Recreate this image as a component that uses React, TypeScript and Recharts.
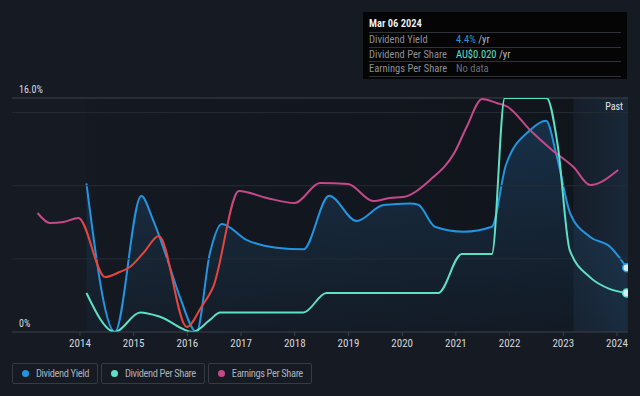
import React from "react";
import {
  ComposedChart,
  Area,
  Line,
  XAxis,
  YAxis,
  ReferenceLine,
  ReferenceArea,
} from "recharts";

// Dividend yield (%)
const yieldYears = [
  2014.12, 2014.65, 2015.14, 2015.36, 2015.61, 2015.86, 2016.17, 2016.42, 2016.64,
  2017.1, 2017.66, 2018.16, 2018.64, 2019.15, 2019.65, 2020.15, 2020.3, 2020.61,
  2021.14, 2021.67, 2021.93, 2022.38, 2022.68, 2022.88, 2023.13, 2023.5, 2023.87,
  2024.18,
];
const yieldValues = [
  10.17, 0, 9.3, 7.66, 5.15, 2.4, 0, 5.4, 7.38, 6.3, 5.76, 5.65, 9.32, 7.59, 8.68,
  8.79, 8.7, 7.2, 6.86, 7.2, 11.4, 13.8, 14.45, 12.0, 8.1, 6.5, 5.83, 4.4,
];

// Dividend per share (AU$)
const dpsYears = [
  2014.12, 2014.65, 2015.12, 2015.49, 2016.1, 2016.42, 2016.61, 2018.16, 2018.59,
  2020.67, 2021.11, 2021.67, 2021.91, 2022.69, 2022.9, 2023.12, 2023.5, 2023.87,
  2024.18,
];
const dpsValues = [
  0.02, 0, 0.01, 0.0078, 0, 0.0062, 0.01, 0.01, 0.02, 0.02, 0.04, 0.04, 0.12, 0.12,
  0.095, 0.042, 0.028, 0.022, 0.02,
];

// Earnings per share (AU$)
const epsYears = [
  2013.21, 2013.44, 2013.69, 2013.97, 2014.47, 2014.74, 2014.93, 2015.18, 2015.47,
  2015.99, 2016.26, 2016.48, 2016.96, 2017.48, 2018.0, 2018.47, 2018.99, 2019.46,
  2019.77, 2020.02, 2020.52, 2020.98, 2021.2, 2021.49, 2021.76, 2021.97, 2022.38,
  2022.79, 2023.19, 2023.5, 2024.02,
];
const epsValues = [
  0.119, 0.109, 0.11, 0.114, 0.055, 0.06, 0.065, 0.079, 0.096, 0.005, 0.025, 0.045,
  0.141, 0.134, 0.129, 0.149, 0.148, 0.131, 0.134, 0.135, 0.152, 0.18, 0.205, 0.233,
  0.229, 0.225, 0.202, 0.182, 0.165, 0.147, 0.162,
];

const xTicks = [2014, 2015, 2016, 2017, 2018, 2019, 2020, 2021, 2022, 2023, 2024];
const yieldGrid = [5, 10, 15];
const yieldMax = 16;
const dataStart = 2014.12;
const pastStart = 2023.19;
const lastDate = 2024.18;

const seriesNames = ["Dividend Yield", "Dividend Per Share", "Earnings Per Share"];
const tooltipDate = "Mar 06 2024";
const tooltipValues = ["4.4%", "AU$0.020", "No data"];

const BG = "#151a23";
const BLUE = "#2394df";
const TEAL = "#5ee0c4";
const PINK = "#c4488a";
const RED = "#e5453d";
const FONT = '"Liberation Sans Narrow", "Roboto Condensed", Roboto, sans-serif';

type Row = { t: number; yld?: number; dps?: number; eps?: number };

function buildRows(): Row[] {
  const map = new Map<number, Row>();
  const put = (ts: number[], vs: number[], key: "yld" | "dps" | "eps") => {
    ts.forEach((t, i) => {
      const r = map.get(t) ?? { t };
      r[key] = vs[i];
      map.set(t, r);
    });
  };
  put(yieldYears, yieldValues, "yld");
  put(dpsYears, dpsValues, "dps");
  put(epsYears, epsValues, "eps");
  return [...map.values()].sort((a, b) => a.t - b.t);
}

const rows = buildRows();

const endDot = (color: string, lastT: number) => (p: any) => {
  if (p.payload?.t !== lastT || p.cy == null) return <g key={p.index} />;
  return (
    <circle key={p.index} cx={p.cx} cy={p.cy} r={4} fill="#d6ecf7" stroke={color} strokeWidth={1.5} />
  );
};

const cornerLabel = (text: string) => (p: any) => (
  <text x={p.viewBox.x + 7} y={p.viewBox.y - 5} fill="#d9dce0" fontSize={10} fontFamily={FONT}>
    {text}
  </text>
);

export default function App() {
  const colors = [BLUE, TEAL, PINK];
  const epsSpan = epsYears[epsYears.length - 1] - epsYears[0];
  const off = (y: number) => ((y - epsYears[0]) / epsSpan).toFixed(3);

  return (
    <div
      style={{
        position: "absolute",
        left: 0,
        top: 0,
        width: 640,
        height: 396,
        background: BG,
        fontFamily: FONT,
        overflow: "hidden",
      }}
    >
      <ComposedChart
        width={640}
        height={396}
        data={rows}
        margin={{ top: 98, right: 12, left: 12, bottom: 34 }}
      >
        <defs>
          <linearGradient id="yieldFill" x1="0" y1="0" x2="0" y2="1">
            <stop offset="0%" stopColor="#2a78b8" stopOpacity={0.45} />
            <stop offset="100%" stopColor="#2a78b8" stopOpacity={0.08} />
          </linearGradient>
          <linearGradient id="darkBand" x1="0" y1="0" x2="1" y2="0">
            <stop offset="0%" stopColor="#07090d" stopOpacity={0.12} />
            <stop offset="100%" stopColor="#07090d" stopOpacity={0.65} />
          </linearGradient>
          <linearGradient id="pastBand" x1="0" y1="0" x2="1" y2="0">
            <stop offset="0%" stopColor="#2a6aa0" stopOpacity={0.1} />
            <stop offset="100%" stopColor="#2a78b8" stopOpacity={0.3} />
          </linearGradient>
          <linearGradient id="epsStroke" x1="0" y1="0" x2="1" y2="0">
            <stop offset={off(2013.95)} stopColor={PINK} />
            <stop offset={off(2014.1)} stopColor={RED} />
            <stop offset={off(2016.7)} stopColor={RED} />
            <stop offset={off(2016.9)} stopColor={PINK} />
          </linearGradient>
        </defs>

        <XAxis
          dataKey="t"
          type="number"
          domain={[2012.734, 2024.205]}
          allowDataOverflow
          ticks={xTicks}
          interval={0}
          axisLine={{ stroke: "#3d434c" }}
          tickLine={{ stroke: "#3d434c" }}
          tickSize={4}
          tickMargin={3}
          tick={{ fill: "#d4d7db", fontSize: 11, fontFamily: FONT }}
          height={30}
        />
        <YAxis yAxisId="y" hide domain={[0, yieldMax]} allowDataOverflow />
        <YAxis yAxisId="d" hide domain={[0, 0.12]} allowDataOverflow />
        <YAxis yAxisId="e" hide domain={[0, 0.234]} allowDataOverflow />

        <ReferenceArea yAxisId="y" x1={dataStart} x2={pastStart} fill="url(#darkBand)" ifOverflow="hidden" />
        <ReferenceArea
          yAxisId="y"
          x1={pastStart}
          x2={2024.205}
          fill="url(#pastBand)"
          ifOverflow="hidden"
          label={{ value: "Past", position: "insideTopRight", fill: "#e2e4e7", fontSize: 10, fontFamily: FONT }}
        />

        {yieldGrid.map((v) => (
          <ReferenceLine key={v} yAxisId="y" y={v} stroke="#262c35" />
        ))}
        <ReferenceLine yAxisId="y" y={yieldMax} stroke="#3c424b" label={cornerLabel("16.0%")} />
        <ReferenceLine yAxisId="y" y={0} stroke="none" label={cornerLabel("0%")} />

        <Area
          yAxisId="y"
          type="monotone"
          dataKey="yld"
          stroke={BLUE}
          strokeWidth={2}
          fill="url(#yieldFill)"
          connectNulls
          isAnimationActive={false}
          dot={endDot(BLUE, lastDate)}
          activeDot={false}
        />
        <Line
          yAxisId="e"
          type="monotone"
          dataKey="eps"
          stroke="url(#epsStroke)"
          strokeWidth={2}
          connectNulls
          isAnimationActive={false}
          dot={false}
          activeDot={false}
        />
        <Line
          yAxisId="d"
          type="monotone"
          dataKey="dps"
          stroke={TEAL}
          strokeWidth={2}
          connectNulls
          isAnimationActive={false}
          dot={endDot(TEAL, lastDate)}
          activeDot={false}
        />
      </ComposedChart>

      {/* tooltip panel */}
      <div
        style={{
          position: "absolute",
          left: 363,
          top: 12,
          width: 264,
          height: 67,
          background: "#050506",
          boxSizing: "border-box",
          padding: "5px 6px 0 6px",
          fontSize: 10.5,
        }}
      >
        <div style={{ color: "#f2f2f2", fontWeight: 600, height: 15, lineHeight: "14px", borderBottom: "1px solid #2e3136" }}>
          {tooltipDate}
        </div>
        {seriesNames.map((name, i) => (
          <div
            key={name}
            style={{
              display: "flex",
              height: 13.5,
              lineHeight: "13px",
              borderBottom: "1px solid #2e3136",
            }}
          >
            <span style={{ width: 87, color: "#8b9097" }}>{name}</span>
            <span style={{ color: i === 2 ? "#6b7077" : colors[i] }}>
              {tooltipValues[i]}
              {i < 2 && <span style={{ color: "#b8bcc2" }}> /yr</span>}
            </span>
          </div>
        ))}
      </div>

      {/* legend */}
      <div style={{ position: "absolute", left: 12, top: 363, display: "flex", gap: 3 }}>
        {seriesNames.map((name, i) => (
          <div
            key={name}
            style={{
              height: 21,
              boxSizing: "border-box",
              border: "1px solid #353a43",
              borderRadius: 2,
              display: "flex",
              alignItems: "center",
              padding: "0 8px 0 9px",
              color: "#aab0b7",
              fontSize: 10.5,
              letterSpacing: -0.4,
            }}
          >
            <span
              style={{
                width: 7,
                height: 7,
                borderRadius: "50%",
                background: colors[i],
                marginRight: 7,
              }}
            />
            {name}
          </div>
        ))}
      </div>
    </div>
  );
}
